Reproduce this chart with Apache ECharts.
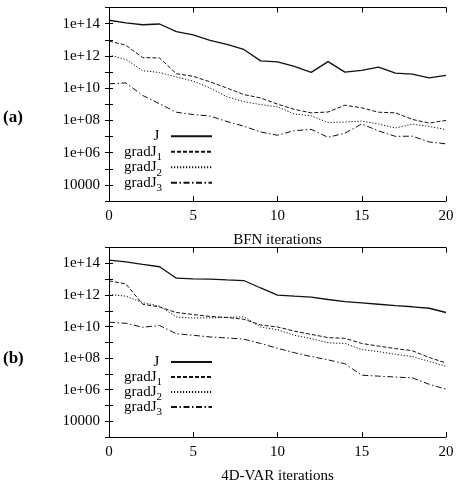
<!DOCTYPE html>
<html>
<head>
<meta charset="utf-8">
<script src="https://cdn.jsdelivr.net/npm/echarts@6/dist/echarts.min.js"></script>
<style>html,body{margin:0;padding:0;background:#fff;}#c{width:461px;height:485px;}</style>
</head>
<body>
<div id="c"></div>
<script>
const iterations = [0,1,2,3,4,5,6,7,8,9,10,11,12,13,14,15,16,17,18,19,20];
const seriesNames = ['J','gradJ1','gradJ2','gradJ3'];

// Panel (a): BFN
const bfnJ = [1.62e14,1.1e14,8.5e13,9.5e13,3.16e13,2.0e13,9.1e12,5.2e12,2.5e12,4.9e11,4.3e11,2.2e11,9.5e10,4.4e11,9.8e10,1.26e11,2.0e11,8.5e10,7.4e10,4.3e10,6.2e10];
const bfnGradJ1 = [8.3e12,4.6e12,7.8e11,7.4e11,7.9e10,5.4e10,2.45e10,1.02e10,4.0e9,2.45e9,1.02e9,4.8e8,2.95e8,3.3e8,8.7e8,6.0e8,3.2e8,2.95e8,1.15e8,6.8e7,1.0e8];
const bfnGradJ2 = [1.12e12,6.0e11,1.2e11,9.3e10,4.9e10,2.7e10,1.02e10,2.9e9,1.45e9,9.5e8,6.9e8,2.5e8,1.9e8,7.4e7,7.9e7,9.1e7,5.9e7,3.4e7,5.8e7,4.2e7,2.7e7];
const bfnGradJ3 = [1.86e10,2.1e10,3.5e9,1.07e9,3.2e8,2.3e8,1.86e8,8.5e7,4.4e7,1.9e7,1.2e7,2.3e7,2.75e7,8.9e6,1.6e7,6.0e7,2.2e7,1.02e7,1.05e7,4.6e6,3.5e6];

// Panel (b): 4D-VAR
const varJ = [1.62e14,1.26e14,8.7e13,6.2e13,1.17e13,1.07e13,1.02e13,9.1e12,8.3e12,2.8e12,9.8e11,8.5e11,7.4e11,5.2e11,3.8e11,3.16e11,2.6e11,2.15e11,1.8e11,1.45e11,7.8e10];
const varGradJ1 = [7.9e12,5.1e12,2.6e11,1.74e11,7.8e10,5.8e10,4.4e10,3.8e10,2.9e10,1.26e10,9.5e9,5.1e9,3.2e9,2.0e9,1.8e9,8.5e8,5.8e8,4.0e8,2.95e8,1.1e8,4.9e7];
const varGradJ2 = [1.07e12,8.5e11,3.3e11,2.0e11,4.0e10,3.5e10,3.6e10,3.8e10,4.2e10,9.3e9,6.3e9,2.8e9,1.74e9,9.3e8,8.5e8,3.5e8,2.6e8,1.74e8,1.26e8,6.2e7,3.0e7];
const varGradJ3 = [1.9e10,1.6e10,9.1e9,1.17e10,3.5e9,2.8e9,2.2e9,1.9e9,1.6e9,8.5e8,4.2e8,2.2e8,1.26e8,7.8e7,4.4e7,8.3e6,7.2e6,6.3e6,5.6e6,2.2e6,1.07e6];

const xTitles = ['BFN iterations','4D-VAR iterations'];
const panelLabels = ['(a)','(b)'];

const FONT = 'Liberation Serif, Times New Roman, serif';
const INK = '#111';
const grids = [
  {left:109, top:7.5, width:337, height:193.5},
  {left:109, top:247.7, width:337, height:193}
];
const legendLayout = [{first:128.8, step:15.5}, {first:354.5, step:15}];
const styles = [
  {type:'solid', width:1.3},
  {type:[4,2], width:1},
  {type:[1.2,1.8], width:1},
  {type:[6,2.5,1.5,2.5], width:1}
];
const panelData = [[bfnJ,bfnGradJ1,bfnGradJ2,bfnGradJ3],[varJ,varGradJ1,varGradJ2,varGradJ3]];

function yLabel(v){
  const e = Math.round(Math.log10(v));
  if (e % 2 !== 0) return '';
  if (e === 4) return '10000';
  return '1e+' + (e < 10 ? '0' + e : '' + e);
}

const xAxis = [], yAxis = [], series = [], legend = [], title = [];
grids.forEach((g, gi) => {
  xAxis.push({
    type:'value', gridIndex:gi, position:'bottom', min:0, max:20, interval:5,
    name:xTitles[gi], nameLocation:'middle', nameGap:32,
    nameTextStyle:{fontFamily:FONT, fontSize:15, color:'#000'},
    axisLine:{lineStyle:{color:'#000', width:1}},
    axisTick:{inside:true, length:5, lineStyle:{color:'#000'}},
    axisLabel:{fontFamily:FONT, fontSize:15, color:'#000', margin:8},
    splitLine:{show:false}
  });
  xAxis.push({
    type:'value', gridIndex:gi, position:'top', min:0, max:20, interval:5,
    axisLine:{lineStyle:{color:'#000', width:1}},
    axisTick:{inside:true, length:5, lineStyle:{color:'#000'}},
    axisLabel:{show:false}, splitLine:{show:false}
  });
  yAxis.push({
    type:'log', logBase:10, gridIndex:gi, position:'left', min:1e3, max:1e15, interval:1,
    axisLine:{show:true, lineStyle:{color:'#000', width:1}},
    axisTick:{show:true, inside:true, length:4, lineStyle:{color:'#000'}},
    axisLabel:{fontFamily:FONT, fontSize:15, color:'#000', margin:9, formatter:yLabel},
    splitLine:{show:false}
  });
  yAxis.push({
    type:'log', logBase:10, gridIndex:gi, position:'right', min:1e3, max:1e15, interval:1,
    axisLine:{show:true, lineStyle:{color:'#000', width:1}},
    axisTick:{show:true, inside:true, length:4, lineStyle:{color:'#000'}},
    axisLabel:{show:false}, splitLine:{show:false}
  });
  panelData[gi].forEach((arr, si) => {
    series.push({
      type:'line', name:seriesNames[si], xAxisIndex:gi*2, yAxisIndex:gi*2,
      data: iterations.map((x, i) => [x, arr[i]]),
      symbol:'none', showSymbol:false, animation:false, silent:true,
      lineStyle:{color:INK, type:styles[si].type, width:styles[si].width},
      itemStyle:{color:INK}
    });
  });
  seriesNames.forEach((n, si) => {
    legend.push({
      data:[n], orient:'horizontal', align:'right', padding:0,
      right: 461 - 213, top: legendLayout[gi].first + si * legendLayout[gi].step,
      itemWidth:41, itemHeight:10, selectedMode:false,
      itemStyle:{opacity:0, color:'rgba(0,0,0,0)', borderWidth:0},
      formatter: name => name === 'J' ? '{n|J}{s| }' : '{n|gradJ}{s|' + name.slice(5) + '}',
      textStyle:{
        fontFamily:FONT, fontSize:15, color:'#000', padding:[0,4,0,0],
        rich:{
          n:{fontFamily:FONT, fontSize:15, color:'#000', lineHeight:14, verticalAlign:'middle'},
          s:{fontFamily:FONT, fontSize:11, color:'#000', lineHeight:22, verticalAlign:'bottom'}
        }
      }
    });
  });
  title.push({
    text:panelLabels[gi], left:3, top:(gi === 0 ? 119.3 : 360.3) - 10, padding:0,
    textStyle:{fontFamily:FONT, fontSize:17, fontWeight:'bold', color:'#000'}
  });
});

const chart = echarts.init(document.getElementById('c'), null, {renderer:'canvas'});
chart.setOption({
  animation:false,
  backgroundColor:'#fff',
  title, legend,
  grid: grids.map(g => Object.assign({containLabel:false}, g)),
  xAxis, yAxis, series
});
</script>
</body>
</html>
